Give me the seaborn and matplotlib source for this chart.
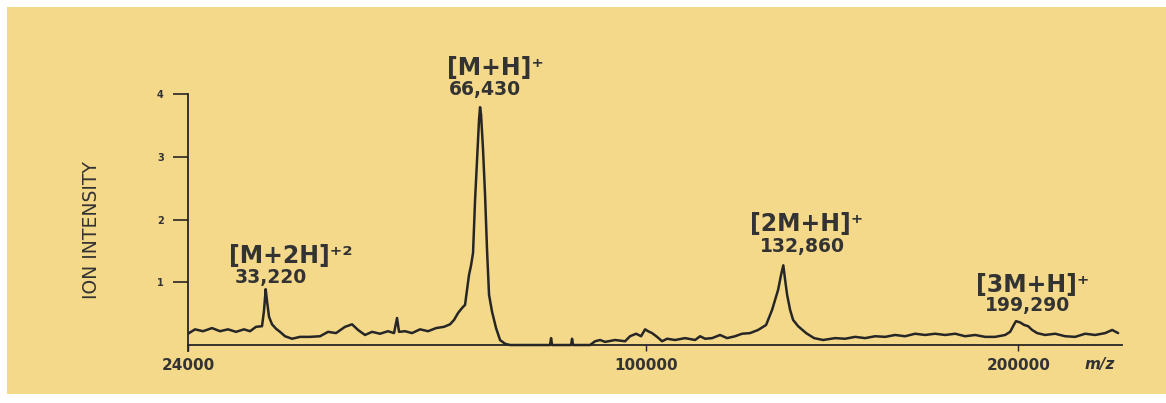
import matplotlib
matplotlib.use("Agg")
import numpy as np
import pandas as pd
import matplotlib.pyplot as plt
import seaborn as sns
from matplotlib.patches import Rectangle

# MALDI spectrum trace: m/z and ion intensity (arbitrary units)
mz = [24000, 24770, 25664, 26690, 27619, 28561, 29522, 30499, 31241, 31991,
      32754, 33008, 33394, 33650, 34040, 34562, 35085, 35751, 36688, 37776,
      39157, 40562, 41706, 42861, 44184, 45229, 46130, 47193, 48272, 49520,
      50778, 51734, 52217, 52542, 53514, 54658, 55984, 57327, 58680, 60054,
      61093, 61792, 62495, 63202, 63731, 64090, 64445, 64806, 65163, 65526,
      65885, 66244, 66610, 66972, 67340, 67704, 68069, 68623, 69364, 70108,
      71044, 71985, 79738, 79942, 80140, 83972, 84175, 84379, 87894, 88941,
      89994, 91053, 93190, 95351, 96441, 97763, 98866, 99755, 100419, 101315,
      102438, 103568, 104704, 106537, 108847, 111182, 112359, 113542, 115213, 117128,
      118825, 120770, 122493, 124468, 126466, 127720, 128479, 129492, 129996, 130762,
      131530, 132292, 133320, 133839, 134608, 135387, 136685, 138779, 140880, 143270,
      146490, 149197, 151928, 154685, 157466, 160272, 163103, 165958, 168839, 171744,
      174674, 177628, 180617, 183621, 186650, 189704, 192782, 195886, 197447, 198702,
      200588, 201853, 203121, 204394, 205989, 208547, 211784, 215036, 218313, 221615,
      224942, 228293, 230659, 232690]
intensity = [0.18, 0.25, 0.22, 0.27, 0.22, 0.25, 0.21, 0.25, 0.22, 0.29,
             0.30, 0.55, 0.70, 0.45, 0.33, 0.26, 0.21, 0.14, 0.10, 0.13,
             0.13, 0.14, 0.21, 0.19, 0.29, 0.33, 0.24, 0.16, 0.21, 0.18,
             0.22, 0.19, 0.43, 0.21, 0.22, 0.19, 0.25, 0.22, 0.27, 0.29,
             0.33, 0.40, 0.51, 0.59, 0.64, 0.88, 1.12, 1.27, 1.47, 2.31,
             2.95, 3.59, 3.67, 3.11, 2.39, 1.51, 0.80, 0.53, 0.27, 0.08,
             0.02, 0.00, 0.00, 0.11, 0.00, 0.00, 0.10, 0.00, 0.00, 0.06,
             0.08, 0.05, 0.08, 0.06, 0.14, 0.18, 0.14, 0.25, 0.22, 0.19,
             0.13, 0.06, 0.10, 0.08, 0.11, 0.08, 0.14, 0.10, 0.11, 0.16,
             0.11, 0.14, 0.18, 0.19, 0.24, 0.29, 0.32, 0.48, 0.56, 0.72,
             0.88, 1.12, 1.04, 0.80, 0.56, 0.40, 0.30, 0.19, 0.11, 0.08,
             0.11, 0.10, 0.13, 0.11, 0.14, 0.13, 0.16, 0.14, 0.18, 0.16,
             0.18, 0.16, 0.18, 0.14, 0.16, 0.13, 0.13, 0.16, 0.21, 0.33,
             0.36, 0.32, 0.30, 0.24, 0.19, 0.16, 0.18, 0.14, 0.13, 0.18,
             0.16, 0.19, 0.24, 0.19]

# Labelled peaks
peak_mz = [33220, 66430, 132860, 199290]
peak_intensity = [0.89, 3.79, 1.27, 0.38]
peak_ions = ["[M+2H]\u207a\u00b2", "[M+H]\u207a", "[2M+H]\u207a", "[3M+H]\u207a"]
peak_labels = ["33,220", "66,430", "132,860", "199,290"]

x_ticks = [24000, 100000, 200000]
x_ticklabels = ["24000", "100000", "200000"]
y_ticks = [1, 2, 3, 4]
y_ticklabels = ["1", "2", "3", "4"]

PAPER = "#f5d98b"
INK = "#262626"
TEXT = "#333333"

sns.set_theme(style="white")
plt.rcParams["font.family"] = ["DejaVu Sans"]

W, H = 1166, 403
fig = plt.figure(figsize=(W / 100, H / 100), dpi=100)
fig.patch.set_facecolor("white")
fig.patches.append(Rectangle((7 / W, 9 / H), (W - 7) / W, 387 / H,
                             transform=fig.transFigure, facecolor=PAPER,
                             edgecolor="none", zorder=-10))

ax = fig.add_axes([188 / W, 51.7 / H, 934 / W, 257.3 / H])
ax.set_facecolor("none")
ax.set_zorder(5)

spec = pd.DataFrame({"mz": mz + peak_mz,
                     "intensity": intensity + peak_intensity}).sort_values("mz")
sns.lineplot(data=spec, x="mz", y="intensity", ax=ax, color=INK,
             linewidth=1.8, estimator=None, sort=True)

# time-of-flight style axis: m/z spaced by its square root
ax.set_xscale("function", functions=(np.sqrt, np.square))
ax.set_xlim(24000, 234000)
ax.set_ylim(-0.1, 4.0)

for side in ("top", "right"):
    ax.spines[side].set_visible(False)
ax.spines["bottom"].set_position(("data", 0))
for side in ("left", "bottom"):
    ax.spines[side].set_color(INK)
    ax.spines[side].set_linewidth(1.3)

ax.set_xticks(x_ticks)
ax.set_xticklabels(x_ticklabels, fontsize=11, fontweight="bold", color=TEXT)
ax.xaxis.set_minor_locator(matplotlib.ticker.NullLocator())
ax.set_yticks(y_ticks)
ax.set_yticklabels(y_ticklabels, fontsize=7, fontweight="bold", color=TEXT)
ax.tick_params(axis="x", direction="out", length=4, width=1, color=INK, pad=5, bottom=True)
ax.tick_params(axis="y", direction="out", length=10.5, width=1.2, color=INK, pad=7, left=True)
ax.grid(False)

ax.set_xlabel("m/z", fontsize=11, style="italic", fontweight="bold", color=TEXT)
ax.xaxis.set_label_coords(0.9764, -0.053)
ax.xaxis.label.set_va("center")

ax.set_ylabel("ION INTENSITY", fontsize=13.5, color=TEXT,
              family=["Liberation Sans Narrow", "DejaVu Sans"])
ax.yaxis.set_label_coords(-0.1028, 0.471)
ax.yaxis.label.set_va("center")

# label offsets (points) from each peak apex: ion name, then m/z value
ion_offsets = [(18, 24), (11, 28.5), (16.5, 29.5), (12, 26)]
num_offsets = [(4, 8.5), (3.5, 13), (13.5, 13.5), (8, 11)]
for x, y, ion, lab, io, no in zip(peak_mz, peak_intensity, peak_ions, peak_labels,
                                  ion_offsets, num_offsets):
    ax.annotate(ion, xy=(x, y), xytext=io, textcoords="offset points",
                ha="center", va="center", fontsize=17, fontweight="bold", color=TEXT)
    ax.annotate(lab, xy=(x, y), xytext=no, textcoords="offset points",
                ha="center", va="center", fontsize=13.5, fontweight="bold", color=TEXT)

fig.savefig("out.png", dpi=100, facecolor=fig.get_facecolor())
